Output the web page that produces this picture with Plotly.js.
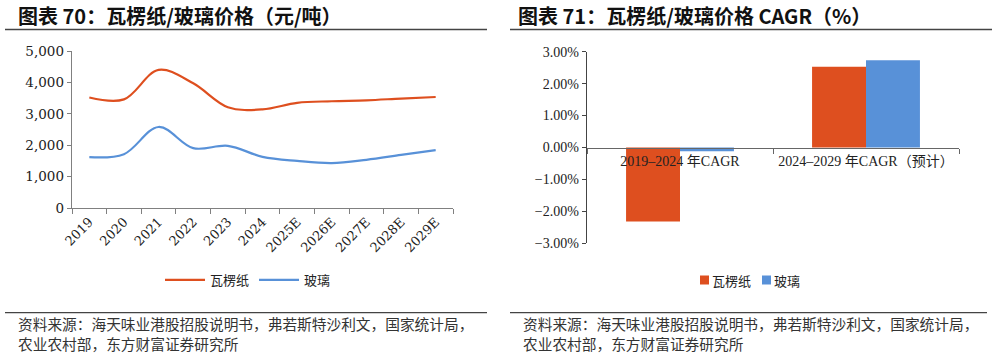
<!DOCTYPE html>
<html>
<head>
<meta charset="utf-8">
<script src="https://cdn.plot.ly/plotly-3.0.1.min.js"></script>
<style>html,body{margin:0;padding:0;background:#fff;}#chart{width:997px;height:356px;}</style>
</head>
<body>
<div id="chart"></div>
<script>
// ---- data ----
const years = ["2019","2020","2021","2022","2023","2024","2025E","2026E","2027E","2028E","2029E"];
const corrugated = [3520, 3460, 4400, 3970, 3210, 3140, 3350, 3400, 3430, 3485, 3535];
const glass = [1620, 1715, 2580, 1905, 1980, 1630, 1500, 1430, 1535, 1690, 1843];
const cagrCats = ["2019–2024 年CAGR", "2024–2029 年CAGR（预计）"];
const cagrCorrugated = [-2.32, 2.53];
const cagrGlass = [-0.12, 2.73];
const seriesNames = ["瓦楞纸", "玻璃"];
const leftTitle = "图表 70：瓦楞纸/玻璃价格（元/吨）";
const rightTitle = "图表 71：瓦楞纸/玻璃价格 CAGR（%）";
const source1 = "资料来源：海天味业港股招股说明书，弗若斯特沙利文，国家统计局，";
const source2 = "农业农村部，东方财富证券研究所";

const W = 997, H = 356;
const px = x => x / W;
const py = y => 1 - y / H;
const RED = "#DE4F1F", BLUE = "#5891D8";
const serif = "Liberation Serif, Noto Sans CJK SC";
const wideSerif = "DejaVu Serif, Liberation Serif";
const cjk = "Noto Sans CJK SC";

const traces = [
  {x: years, y: corrugated, name: seriesNames[0], type: "scatter", mode: "lines",
   line: {color: RED, width: 2.2, shape: "spline", smoothing: 1}, xaxis: "x", yaxis: "y", legend: "legend"},
  {x: years, y: glass, name: seriesNames[1], type: "scatter", mode: "lines",
   line: {color: BLUE, width: 2.2, shape: "spline", smoothing: 1}, xaxis: "x", yaxis: "y", legend: "legend"},
  {x: cagrCats, y: cagrCorrugated, name: seriesNames[0], type: "bar", marker: {color: RED},
   xaxis: "x2", yaxis: "y2", showlegend: false},
  {x: cagrCats, y: cagrGlass, name: seriesNames[1], type: "bar", marker: {color: BLUE},
   xaxis: "x2", yaxis: "y2", showlegend: false}
];

const axisGray = "#808080";
const layout = {
  width: W, height: H,
  margin: {l: 0, r: 0, t: 0, b: 0},
  paper_bgcolor: "#fff", plot_bgcolor: "#fff",
  font: {family: serif, color: "#222", size: 13},
  barmode: "group", bargap: 0.42, bargroupgap: 0,
  xaxis: {
    domain: [px(72), px(453)], anchor: "y", type: "category",
    range: [-0.5, 10.5], tickson: "boundaries", ticks: "outside", ticklen: 5,
    tickcolor: axisGray, showline: true, linecolor: axisGray, linewidth: 1.3,
    showgrid: false, tickangle: -45, tickfont: {family: wideSerif, size: 13, color: "#222"}
  },
  yaxis: {
    domain: [py(208), py(51)], anchor: "x", range: [0, 5000], dtick: 1000,
    tickformat: ",d", ticks: "outside", ticklen: 4, tickcolor: axisGray,
    showline: true, linecolor: axisGray, linewidth: 1.3, showgrid: false, zeroline: false,
    tickfont: {family: wideSerif, size: 13.5, color: "#222"}
  },
  xaxis2: {
    domain: [px(587), px(959)], anchor: "free", position: py(147.7), type: "category",
    range: [-0.5, 1.5], tickson: "boundaries", ticks: "outside", ticklen: 5,
    tickcolor: "#666", showline: true, linecolor: "#666", linewidth: 1.3, showgrid: false,
    tickfont: {family: serif, size: 14, color: "#222"}
  },
  yaxis2: {
    domain: [py(243.3), py(51.7)], anchor: "x2", range: [-3, 3], dtick: 1,
    tickformat: ".2f", ticksuffix: "%", ticks: "outside", ticklen: 4, tickcolor: "#444",
    showline: true, linecolor: "#444", linewidth: 1.3, showgrid: false, zeroline: false,
    tickfont: {family: serif, size: 14, color: "#222"}
  },
  legend: {
    orientation: "h", x: px(248), xanchor: "center", y: py(280), yanchor: "middle",
    font: {family: cjk, size: 13, color: "#222"}, itemwidth: 40, bgcolor: "rgba(0,0,0,0)"
  },
  shapes: [
    {type: "line", xref: "paper", yref: "paper", x0: px(5), x1: px(487), y0: py(29.5), y1: py(29.5), line: {color: "#444", width: 1.5}},
    {type: "line", xref: "paper", yref: "paper", x0: px(510), x1: px(992), y0: py(29.5), y1: py(29.5), line: {color: "#444", width: 1.5}},
    {type: "line", xref: "paper", yref: "paper", x0: px(5), x1: px(487), y0: py(312.7), y1: py(312.7), line: {color: "#444", width: 1.2}},
    {type: "line", xref: "paper", yref: "paper", x0: px(510), x1: px(987), y0: py(312.7), y1: py(312.7), line: {color: "#444", width: 1.2}},
    // right-chart legend swatches
    {type: "rect", xref: "paper", yref: "paper", x0: px(700), x1: px(709), y0: py(284.5), y1: py(275.5), fillcolor: RED, line: {width: 0}},
    {type: "rect", xref: "paper", yref: "paper", x0: px(762), x1: px(771), y0: py(284.5), y1: py(275.5), fillcolor: BLUE, line: {width: 0}}
  ],
  annotations: [
    {text: "<b>" + leftTitle + "</b>", xref: "paper", yref: "paper", x: px(16), y: py(15), xanchor: "left", yanchor: "middle", showarrow: false, font: {family: cjk, size: 20, color: "#111"}},
    {text: "<b>" + rightTitle + "</b>", xref: "paper", yref: "paper", x: px(516), y: py(15), xanchor: "left", yanchor: "middle", showarrow: false, font: {family: cjk, size: 20, color: "#111"}},
    {text: source1, xref: "paper", yref: "paper", x: px(16), y: py(323.5), xanchor: "left", yanchor: "middle", showarrow: false, font: {family: cjk, size: 14.7, color: "#333"}},
    {text: source2, xref: "paper", yref: "paper", x: px(16), y: py(343.5), xanchor: "left", yanchor: "middle", showarrow: false, font: {family: cjk, size: 14.7, color: "#333"}},
    {text: source1, xref: "paper", yref: "paper", x: px(521), y: py(323.5), xanchor: "left", yanchor: "middle", showarrow: false, font: {family: cjk, size: 14.7, color: "#333"}},
    {text: source2, xref: "paper", yref: "paper", x: px(521), y: py(343.5), xanchor: "left", yanchor: "middle", showarrow: false, font: {family: cjk, size: 14.7, color: "#333"}},
    {text: seriesNames[0], xref: "paper", yref: "paper", x: px(710), y: py(280), xanchor: "left", yanchor: "middle", showarrow: false, font: {family: cjk, size: 13, color: "#222"}},
    {text: seriesNames[1], xref: "paper", yref: "paper", x: px(772), y: py(280), xanchor: "left", yanchor: "middle", showarrow: false, font: {family: cjk, size: 13, color: "#222"}}
  ]
};

Plotly.newPlot("chart", traces, layout, {displayModeBar: false, staticPlot: true});
</script>
</body>
</html>
